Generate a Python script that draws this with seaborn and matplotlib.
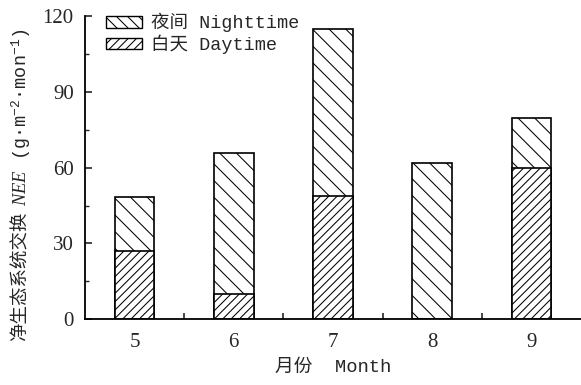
import matplotlib
matplotlib.use("Agg")
import matplotlib.pyplot as plt
from matplotlib.patches import Patch
from matplotlib.ticker import MultipleLocator, FixedLocator
import seaborn as sns
import pandas as pd

# Monthly net ecosystem exchange, g·m-2·mon-1
months = ["5", "6", "7", "8", "9"]
daytime = [26.9, 10.0, 48.7, 0.0, 59.9]
nighttime = [21.5, 55.9, 66.4, 61.9, 19.6]
total = [d + n for d, n in zip(daytime, nighttime)]
yticks = [0, 30, 60, 90, 120]

df = pd.DataFrame({"month": months, "day": daytime, "total": total})

sns.set_style("ticks")
plt.rcParams["font.family"] = ["Liberation Serif", "Noto Sans CJK SC"]
plt.rcParams["mathtext.fontset"] = "custom"
plt.rcParams["mathtext.rm"] = "Liberation Mono"
plt.rcParams["mathtext.it"] = "Liberation Serif:italic"
plt.rcParams["hatch.linewidth"] = 0.75

mixed = ["Liberation Mono", "Noto Sans CJK SC"]

fig = plt.figure(figsize=(5.81, 3.85), dpi=100)
ax = fig.add_axes([0.146, 0.171, 0.854, 0.787])

# Stacked bars: full height carries the night hatch, daytime part drawn over it
sns.barplot(data=df, x="month", y="total", order=months, color="white",
            edgecolor="black", linewidth=1.2, width=0.4, hatch="\\\\",
            saturation=1, ax=ax)
sns.barplot(data=df, x="month", y="day", order=months, color="white",
            edgecolor="black", linewidth=1.2, width=0.4, hatch="////",
            saturation=1, ax=ax)

ax.set_xlim(-0.5, 4.5)
ax.set_ylim(0, 120)
ax.yaxis.set_major_locator(FixedLocator(yticks))
ax.yaxis.set_minor_locator(MultipleLocator(15))
ax.xaxis.set_minor_locator(FixedLocator([0.5, 1.5, 2.5, 3.5]))

ax.tick_params(axis="y", which="major", direction="in", length=5, width=1.2,
               labelsize=15, pad=8)
ax.tick_params(axis="y", which="minor", direction="in", length=3, width=1)
ax.tick_params(axis="x", which="major", length=0, labelsize=15, pad=10)
ax.tick_params(axis="x", which="minor", direction="in", length=4, width=1.2)

for s in ("top", "right"):
    ax.spines[s].set_visible(False)
for s in ("left", "bottom"):
    ax.spines[s].set_linewidth(1.3)
    ax.spines[s].set_color("black")

ax.set_xlabel("月份  Month", fontsize=13.5, family=mixed, labelpad=5)
ax.set_ylabel("")

handles = [
    Patch(facecolor="white", edgecolor="black", hatch="\\\\\\", label="夜间 Nighttime"),
    Patch(facecolor="white", edgecolor="black", hatch="////", label="白天 Daytime"),
]
ax.legend(handles=handles, loc="upper left", bbox_to_anchor=(0.028, 1.035),
          frameon=False, prop={"family": mixed, "size": 13.3},
          handlelength=1.95, handleheight=0.6, handletextpad=0.5,
          labelspacing=0.12, borderaxespad=0)

# Vertical axis title built from pieces: CJK part, italic NEE, units
fig.canvas.draw()
renderer = fig.canvas.get_renderer()
W, H = fig.bbox.width, fig.bbox.height
base_x = 26 / W
y_px = H - 341
pieces = [
    ("净生态系统交换", dict(family=mixed, fontsize=13.3)),
    ("$\\mathit{NEE}$ (g·m$^{-2}$·mon$^{-1}$)", dict(family=mixed, fontsize=13.3)),
]
gap = 6
for txt, kw in pieces:
    t = fig.text(base_x, y_px / H, txt, rotation=90, rotation_mode="anchor",
                 ha="left", va="baseline", **kw)
    bb = t.get_window_extent(renderer)
    y_px = bb.y1 + gap

fig.savefig("out.png", dpi=100)
